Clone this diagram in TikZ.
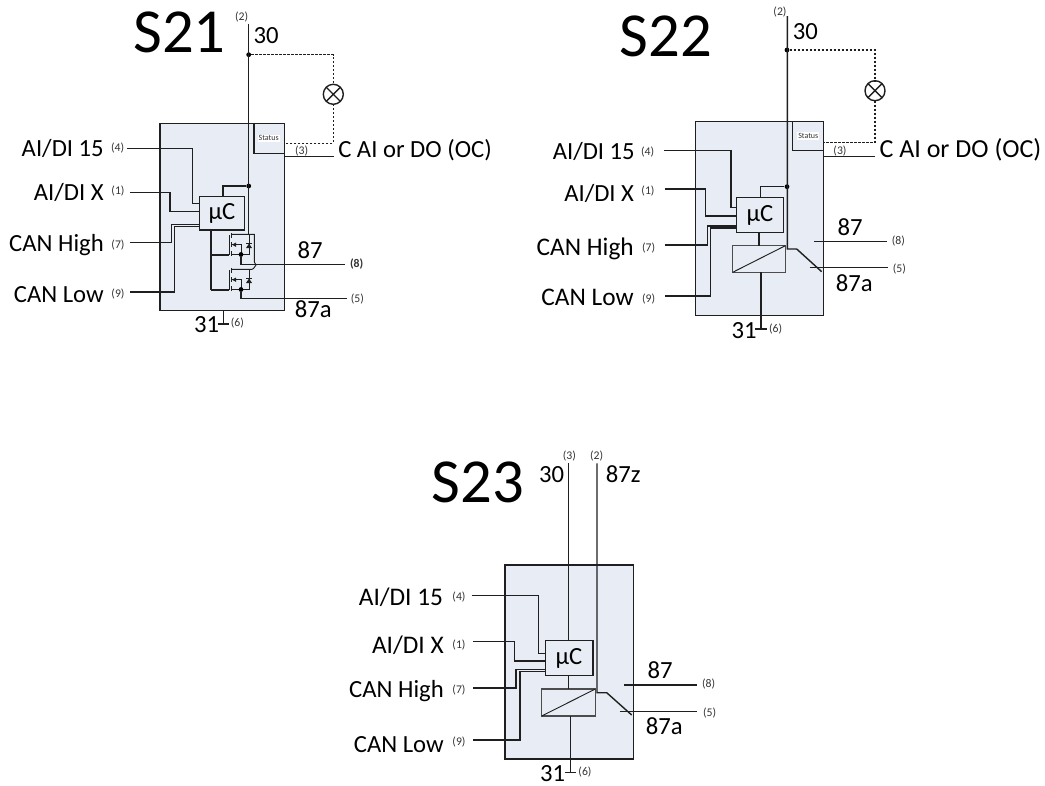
\documentclass[tikz,border=0pt]{standalone}
\usepackage{fontspec}
\setmainfont{Carlito}
\usetikzlibrary{fit}
\definecolor{boxfill}{HTML}{E8EDF5}
\definecolor{ink}{HTML}{1F1F1F}
\definecolor{smallink}{HTML}{333333}
\tikzset{
  x=0.75pt,y=-0.75pt,
  wire/.style={draw=ink,line width=1.05pt,line join=miter},
  thin wire/.style={draw=ink,line width=0.7pt},
  dashwire/.style={draw=ink,line width=1.1pt,dash pattern=on 1.6pt off 1.4pt},
  module/.style={draw=ink,fill=boxfill,line width=1.1pt,inner sep=0pt,outer sep=0pt},
  sub/.style={draw=ink,fill=boxfill,line width=1.1pt,inner sep=0pt,outer sep=0pt},
  coil/.style={draw=ink!80,fill=boxfill,line width=1.1pt,inner sep=0pt,outer sep=0pt},
  title/.style={font=\fontsize{47}{47}\selectfont,inner sep=0pt,anchor=base,text=black},
  lab/.style={font=\fontsize{18.5}{20}\selectfont,inner sep=0pt,text=black},
  labb/.style={font=\fontsize{19}{20}\selectfont,inner sep=0pt,text=black},
  labr/.style={lab,anchor=base east},
  labrb/.style={labb,anchor=base east},
  pin/.style={font=\fontsize{8.8}{9}\selectfont,inner sep=0pt,text=smallink},
  stat/.style={font=\fontsize{6}{7}\selectfont,fill=white,inner sep=0.8pt,text=smallink},
  lamp/.style={circle,draw=ink,line width=1.05pt,minimum size=15pt,inner sep=0pt,outer sep=0pt},
  dot/.style={circle,fill=black,inner sep=0pt,minimum size=3.6pt},
}
\newcommand{\pxbox}[6]{\node[#1,fit={(#3,#4)(#5,#6)}] (#2) {};}
\newcommand{\mosfet}[2]{%
  \begin{scope}[shift={(0,#2)}]
    \coordinate (#1d) at (231,234.3);
    \coordinate (#1s) at (241,254.5);
    \draw[thin wire] (229,235) -- (229,255);
    \draw[thin wire] (231,233) -- (231,238) (231,242) -- (231,247) (231,251) -- (231,256);
    \draw[thin wire] (231,234.3) -- (249,234.3) -- (249,254.5) -- (231,254.5);
    \draw[thin wire] (231,244.7) -- (241,244.7) -- (241,254.5);
    \fill[ink] (232,244.7) -- (236,242.5) -- (236,246.9) -- cycle;
    \fill[ink] (249,243.5) -- (246,248) -- (252,248) -- cycle;
    \draw[thin wire] (246,243.3) -- (252,243.3);
    \node[dot] (#1dot) at (241,254.5) {};
  \end{scope}}
\begin{document}
\begin{tikzpicture}
\useasboundingbox (0,0) rectangle (1045,785);
% ---------- S21
\pxbox{module}{am}{160}{123.5}{284.5}{310.5}
\pxbox{sub}{as}{254}{123.5}{284.5}{153.3}
\pxbox{sub}{au}{199.3}{196.7}{244.7}{230}
\node[lab] (aut) at (222,213) {µC};
\node[stat] (ast) at (268.7,138.3) {Status};
\node[title] (at) at (179.5,52.3) {S21};
\node[pin] (ap2) at (241.7,17.3) {(2)};
\node[lab] (a30) at (266,36) {30};
\node[lab,anchor=base west] (ac) at (338,157.5) {C AI or DO (OC)};
\node[pin] (ap3) at (301.7,150.7) {(3)};
\node[labr] (al4) at (104,156.7) {AI/DI 15};
\node[labr] (al1) at (104,200) {AI/DI X};
\node[labr] (al7) at (104,251.7) {CAN High};
\node[labr] (al9) at (104,302.7) {CAN Low};
\node[pin] (ap4) at (117.7,148.3) {(4)};
\node[pin] (ap1) at (118,191.5) {(1)};
\node[pin] (ap7) at (118,245) {(7)};
\node[pin] (ap9) at (118,294) {(9)};
\node[lab] (a87) at (310,250) {87};
\node[lab] (a87a) at (313.3,309.3) {87a};
\node[lab] (a31) at (206.7,325) {31};
\node[pin,font=\fontsize{8.8}{9}\bfseries\selectfont] (ap8) at (356.7,264.5) {(8)};
\node[pin] (ap5) at (357.3,299) {(5)};
\node[pin] (ap6) at (237.3,323) {(6)};
\node[lamp] (alamp) at (333.3,94.3) {};
\draw[wire] (alamp.45) -- (alamp.225) (alamp.135) -- (alamp.315);
\coordinate (atop) at (248.7,23.5);
\node[dot] (ad1) at (248.7,54.7) {};
\node[dot] (ad2) at (248.7,186) {};
\coordinate (arail) at (248.7,234.3);
\draw[wire] (atop) -- (arail);
\draw[dashwire] (ad1) -| (alamp.north);
\draw[dashwire] (alamp.south) |- (as.east |- 0,143.3);
\draw[wire] (as.east |- 0,156.7) -- (334,156.7);
\draw[wire] (ad2) -| (223,196.7);
\draw[wire] (127.3,148.3) -| (192.3,203.3) -- (au.west |- 0,203.3);
\draw[wire] (130,192.3) -| (170,211.3) -- (au.west |- 0,211.3);
\draw[wire] (130,242.3) -| (171.7,224.3) -- (au.west |- 0,224.3);
\draw[wire] (130,292) -| (174.7,226.7) -- (au.west |- 0,226.7);
\mosfet{mu}{0}
\mosfet{ml}{35}
\draw[thin wire] (mud) -- (254.3,234.3) -- (254.3,262) -- (256,265) -- (253.5,268.5) -- (252,269.3) -- (mld);
\draw[wire] (211,230) -- (211,290);
\draw[wire] (211,254.8) -- (229,254.8);
\draw[wire] (211,289.8) -- (229,289.8);
\draw[wire] (mudot) |- (345,264.5);
\draw[wire] (mldot) |- (346.7,298.3);
\draw[wire] (223.3,310.5) -- (223.3,324);
\draw[wire] (218,324) -- (229,324);
% ---------- S22
\pxbox{module}{bm}{695.7}{121.7}{823.7}{315.3}
\pxbox{sub}{bs}{792.7}{121.7}{823.7}{150.3}
\pxbox{sub}{bu}{736.7}{197.3}{783.3}{232.3}
\pxbox{coil}{bc}{732.7}{245.7}{785.3}{272.3}
\node[lab] (but) at (760,215) {µC};
\node[stat] (bst) at (808.3,136) {Status};
\node[title] (bt) at (666,56.7) {S22};
\node[pin] (bp2) at (780,12) {(2)};
\node[lab] (b30) at (805.3,32) {30};
\node[font=\fontsize{19.5}{20}\selectfont,inner sep=0pt,anchor=base west] (bcc) at (879.3,157.5) {C AI or DO (OC)};
\node[pin] (bp3) at (840,150.7) {(3)};
\node[labr] (bl4) at (635,159.3) {AI/DI 15};
\node[labr] (bl1) at (634.3,201) {AI/DI X};
\node[labrb] (bl7) at (634,255) {CAN High};
\node[labrb] (bl9) at (634,305.7) {CAN Low};
\node[pin] (bp4) at (647.7,151.7) {(4)};
\node[pin] (bp1) at (648,191.3) {(1)};
\node[pin] (bp7) at (648.7,248) {(7)};
\node[pin] (bp9) at (648.7,299) {(9)};
\node[lab] (b87) at (850,227.3) {87};
\node[lab] (b87a) at (854.3,282.7) {87a};
\node[lab] (b31) at (744,331) {31};
\node[pin] (bp8) at (898.3,241) {(8)};
\node[pin] (bp5) at (899.3,269) {(5)};
\node[pin] (bp6) at (775.7,329) {(6)};
\node[lamp] (blamp) at (875,90.7) {};
\draw[wire] (blamp.45) -- (blamp.225) (blamp.135) -- (blamp.315);
\coordinate (btop) at (787.3,16);
\node[dot] (bd1) at (787,50) {};
\node[dot] (bd2) at (787,186.7) {};
\draw[wire] (btop) -- (787.3,249) -- (796.7,249) -- (821.7,271.7);
\draw[dashwire] (bd1) -| (blamp.north);
\draw[dashwire] (blamp.south) |- (bs.east |- 0,142.3);
\draw[wire] (bs.east |- 0,156.7) -- (875,156.7);
\draw[wire] (bd2) -| (760.7,197.3);
\draw[wire] (664,150.3) -| (731,207.7) -- (bu.west |- 0,207.7);
\draw[wire] (665,189) -| (705.3,216) -- (bu.west |- 0,216);
\draw[wire] (665,245) -| (707.3,226) -- (bu.west |- 0,226);
\draw[wire] (665,296) -| (710.7,228) -- (bu.west |- 0,228);
\draw[wire] (759,232.3) -- (759,245.7);
\draw[thin wire] (bc.south west) -- (bc.north east);
\draw[wire] (761,272.3) -- (761,329);
\draw[wire] (755,329) -- (766.7,329);
\draw[wire] (814,241.3) -- (886.7,241.3);
\draw[wire] (810,267.7) -- (887.7,267.7);
% ---------- S23
\pxbox{module}{cm}{505}{565}{633.7}{759}
\pxbox{sub}{cu}{545.3}{640.7}{593}{675.7}
\pxbox{coil}{cc}{541.7}{689}{595.3}{716}
\node[lab] (cut) at (569,658.5) {µC};
\node[title] (ct) at (477.7,502.7) {S23};
\node[pin] (cp3) at (569.3,456) {(3)};
\node[pin] (cp2) at (596.7,456) {(2)};
\node[lab] (c30) at (551.7,474.3) {30};
\node[lab] (c87z) at (623.3,474.3) {87z};
\node[labrb] (cl4) at (443.3,605) {AI/DI 15};
\node[labrb] (cl1) at (444,653.3) {AI/DI X};
\node[labr] (cl7) at (444,697) {CAN High};
\node[labr] (cl9) at (444,752) {CAN Low};
\node[pin] (cp4) at (459,596.7) {(4)};
\node[pin] (cp1) at (459,644.7) {(1)};
\node[pin] (cp7) at (459,690) {(7)};
\node[pin] (cp9) at (459,742) {(9)};
\node[lab] (c87) at (660,670) {87};
\node[lab] (c87a) at (664.3,725.7) {87a};
\node[lab] (c31) at (552.7,774) {31};
\node[pin] (cp8) at (708.7,684.5) {(8)};
\node[pin] (cp5) at (709.7,713) {(5)};
\node[pin] (cp6) at (585,772) {(6)};
\draw[wire] (568.7,463.3) -- (cu.north -| 568.7,0);
\draw[wire] (597,463.3) -- (597,692.7) -- (606.7,692.7) -- (631.7,715);
\draw[wire] (471.7,595.7) -| (538.7,653.3) -- (cu.west |- 0,653.3);
\draw[wire] (473.3,641.3) -| (514.3,661) -- (cu.west |- 0,661);
\draw[wire] (473.3,688) -| (516,669.3) -- (cu.west |- 0,669.3);
\draw[wire] (473.3,740) -| (520,671.3) -- (cu.west |- 0,671.3);
\draw[wire] (568.3,675.7) -- (568.3,689);
\draw[thin wire] (cc.south west) -- (cc.north east);
\draw[wire] (570.3,716) -- (570.3,772.7);
\draw[wire] (565,772.7) -- (576,772.7);
\draw[wire] (624,685) -- (697,685);
\draw[wire] (620,711.3) -- (697.3,711.3);
\end{tikzpicture}
\end{document}
